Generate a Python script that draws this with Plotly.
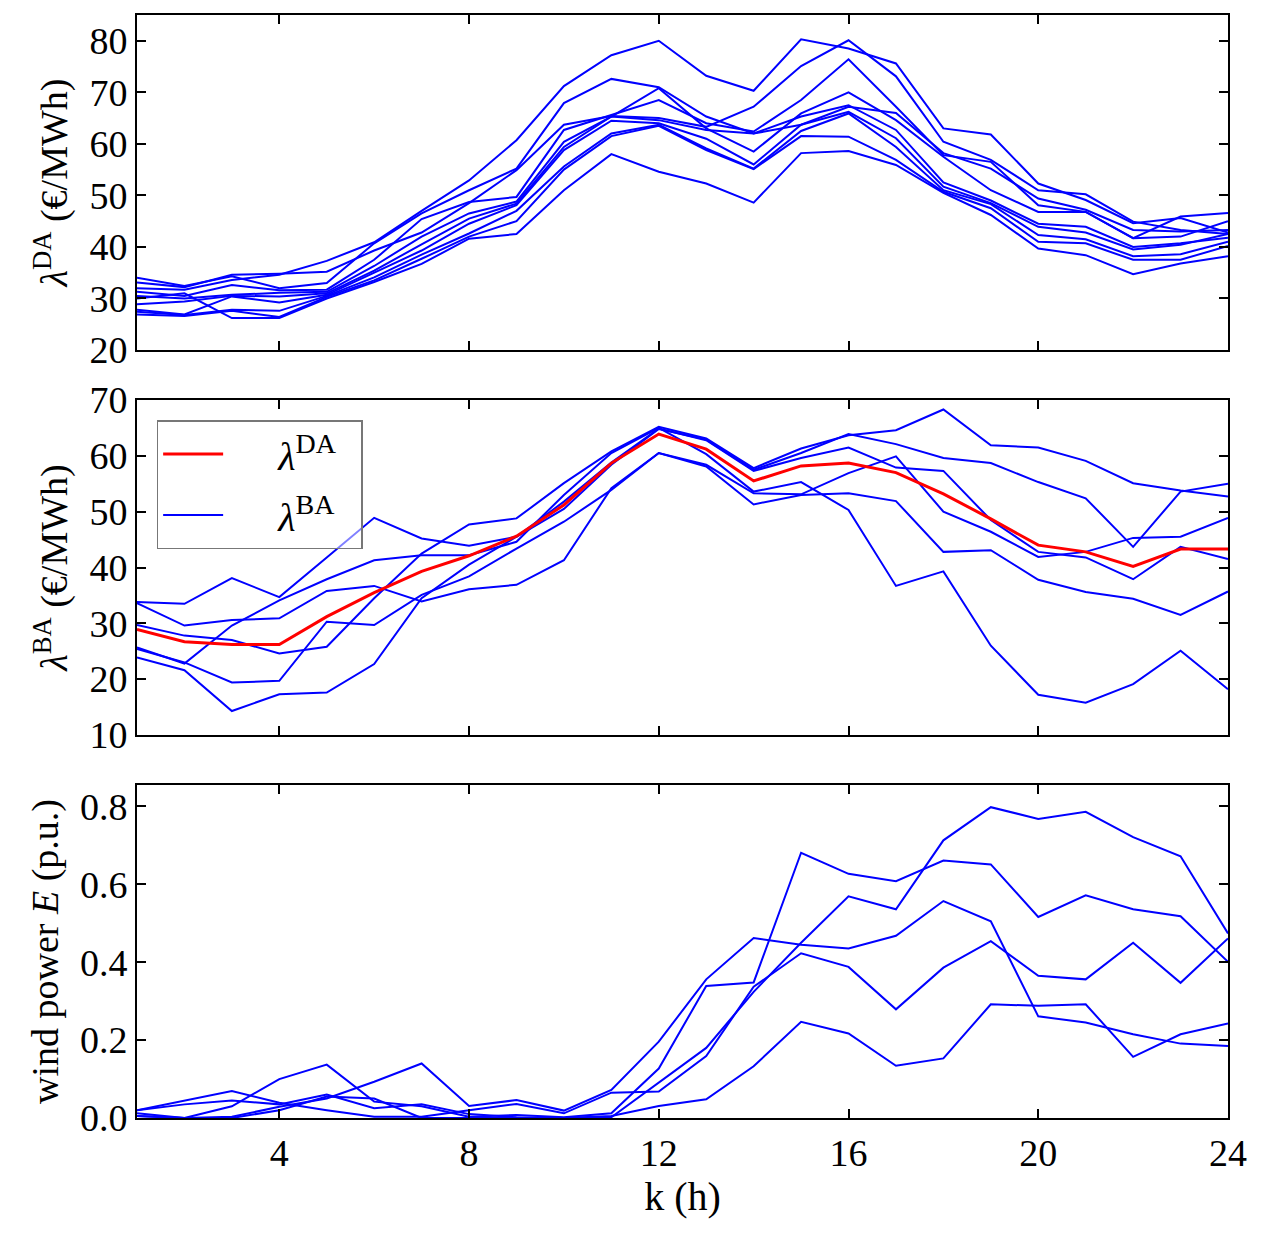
import plotly.graph_objects as go
from plotly.subplots import make_subplots

hours = list(range(1, 25))

# ---- Top panel: day-ahead price scenarios (EUR/MWh) ----
da_s1 = [32.0, 31.7, 33.6, 34.6, 37.3, 40.9, 47.0, 52.9, 60.7, 71.2, 77.2, 80.0, 73.2, 70.3, 80.3, 78.5, 75.6, 63.0, 61.8, 52.3, 49.1, 44.6, 45.6, 42.8]
da_s2 = [33.1, 32.2, 34.6, 34.8, 35.2, 39.3, 42.8, 48.5, 54.9, 63.7, 65.4, 65.0, 63.3, 67.2, 75.1, 80.1, 73.1, 60.4, 56.9, 51.0, 50.2, 44.9, 43.3, 42.5]
da_s3 = [34.0, 32.4, 34.3, 32.0, 33.0, 40.7, 46.5, 51.0, 55.2, 67.9, 72.6, 71.0, 65.3, 62.0, 63.7, 67.2, 66.0, 58.2, 55.2, 49.4, 47.2, 43.3, 43.0, 43.3]
da_s4 = [31.3, 30.5, 32.6, 31.6, 31.7, 37.5, 45.4, 48.7, 49.7, 62.7, 65.6, 68.5, 64.0, 62.4, 68.5, 76.4, 67.2, 57.8, 56.5, 48.1, 46.8, 41.7, 42.0, 45.0]
da_s5 = [30.5, 30.0, 30.7, 31.1, 31.3, 36.3, 42.0, 46.5, 48.8, 60.4, 65.3, 70.8, 63.0, 58.5, 65.9, 70.0, 64.6, 57.5, 51.0, 46.8, 46.8, 41.7, 45.9, 46.6]
da_s6 = [28.9, 29.4, 30.5, 30.4, 31.0, 35.4, 40.5, 45.5, 48.4, 59.4, 65.3, 64.6, 62.7, 62.0, 65.3, 67.5, 62.7, 52.5, 49.0, 44.5, 43.9, 40.0, 40.7, 41.8]
da_s7 = [27.8, 26.9, 30.4, 29.2, 30.7, 35.0, 39.3, 44.5, 48.1, 58.8, 64.5, 64.0, 61.0, 56.0, 63.7, 66.2, 61.1, 51.7, 48.5, 43.9, 42.8, 39.5, 40.4, 42.5]
da_s8 = [27.4, 26.8, 27.8, 27.6, 30.5, 34.1, 38.5, 42.6, 47.0, 55.6, 62.0, 63.7, 59.1, 55.2, 62.5, 65.9, 59.4, 51.0, 48.3, 42.3, 41.5, 38.2, 38.6, 41.0]
da_s9 = [26.9, 26.6, 27.6, 26.4, 30.3, 33.5, 37.7, 42.0, 45.0, 55.0, 61.5, 63.5, 58.8, 55.1, 61.5, 61.4, 56.9, 50.7, 47.5, 41.0, 40.7, 37.5, 37.5, 40.2]
da_s10 = [30.0, 31.0, 26.2, 26.2, 30.0, 33.2, 36.7, 41.6, 42.5, 51.0, 58.0, 54.6, 52.3, 48.6, 58.2, 58.6, 55.9, 50.5, 46.2, 39.7, 38.4, 34.7, 36.8, 38.2]
da_scenarios = [da_s1, da_s2, da_s3, da_s4, da_s5, da_s6, da_s7, da_s8, da_s9, da_s10]

# ---- Middle panel: balancing price scenarios and DA reference ----
da_ref = [28.9, 26.7, 26.2, 26.2, 31.2, 35.5, 39.3, 42.1, 45.6, 51.2, 58.7, 63.9, 61.2, 55.5, 58.2, 58.7, 57.0, 53.2, 48.7, 44.0, 42.8, 40.2, 43.3, 43.3]
ba_s1 = [33.8, 33.5, 38.1, 34.7, 41.8, 48.9, 45.2, 43.9, 45.5, 50.5, 58.4, 64.8, 62.9, 57.5, 60.5, 63.9, 62.1, 59.6, 58.7, 55.3, 52.4, 43.7, 53.6, 55.0]
ba_s2 = [33.6, 29.6, 30.6, 30.9, 35.8, 36.7, 33.9, 36.1, 36.9, 41.3, 54.2, 60.5, 58.4, 53.3, 53.1, 56.9, 59.9, 50.0, 46.4, 41.9, 42.8, 45.3, 45.5, 48.9]
ba_s3 = [29.7, 27.8, 27.0, 24.6, 25.8, 34.5, 42.5, 47.7, 48.8, 55.1, 60.8, 65.2, 63.1, 57.8, 61.3, 63.7, 64.6, 68.3, 61.9, 61.5, 59.1, 55.1, 53.8, 52.7]
ba_s4 = [25.7, 22.8, 29.6, 34.1, 37.9, 41.3, 42.2, 42.2, 44.6, 53.0, 60.5, 65.0, 60.3, 53.6, 55.3, 50.3, 36.7, 39.3, 26.0, 17.2, 15.8, 19.1, 25.1, 18.2]
ba_s5 = [25.4, 23.0, 19.4, 19.7, 30.3, 29.7, 35.1, 38.4, 43.4, 48.2, 53.9, 60.5, 58.1, 51.3, 53.0, 53.3, 51.9, 42.8, 43.1, 37.8, 35.6, 34.4, 31.5, 35.7]
ba_s6 = [23.9, 21.6, 14.3, 17.3, 17.6, 22.7, 34.5, 40.5, 45.5, 51.8, 58.8, 64.9, 62.8, 57.3, 59.6, 61.5, 57.9, 57.3, 48.5, 42.8, 41.8, 37.9, 43.7, 41.5]
ba_scenarios = [ba_s1, ba_s2, ba_s3, ba_s4, ba_s5, ba_s6]

# ---- Bottom panel: wind power scenarios (p.u.) ----
w_a = [0.012, 0.000, 0.030, 0.100, 0.137, 0.042, 0.030, 0.003, 0.008, 0.002, 0.012, 0.127, 0.339, 0.348, 0.681, 0.627, 0.608, 0.661, 0.651, 0.516, 0.572, 0.536, 0.518, 0.401]
w_b = [0.020, 0.035, 0.045, 0.035, 0.060, 0.025, 0.035, 0.010, 0.002, 0.000, 0.002, 0.092, 0.180, 0.324, 0.450, 0.569, 0.536, 0.713, 0.798, 0.768, 0.786, 0.721, 0.672, 0.474]
w_c = [0.005, 0.000, 0.003, 0.029, 0.050, 0.093, 0.140, 0.031, 0.046, 0.019, 0.072, 0.196, 0.356, 0.462, 0.445, 0.435, 0.468, 0.557, 0.505, 0.261, 0.245, 0.215, 0.191, 0.185]
w_d = [0.020, 0.045, 0.069, 0.039, 0.020, 0.003, 0.003, 0.020, 0.036, 0.012, 0.065, 0.068, 0.159, 0.337, 0.423, 0.388, 0.279, 0.386, 0.454, 0.365, 0.356, 0.450, 0.347, 0.461]
w_e = [0.005, 0.000, 0.000, 0.020, 0.055, 0.050, 0.000, 0.000, 0.000, 0.000, 0.005, 0.031, 0.048, 0.133, 0.247, 0.217, 0.134, 0.153, 0.292, 0.288, 0.292, 0.157, 0.215, 0.243]
wind_scenarios = [w_a, w_b, w_c, w_d, w_e]

x_ticks = [4, 8, 12, 16, 20, 24]

BLUE = "#0000ff"
RED = "#ff0000"
FONT = "Liberation Serif"
NB = "\u00a0"

fig = make_subplots(rows=3, cols=1, shared_xaxes=False, vertical_spacing=0.0)

for s in da_scenarios:
    fig.add_trace(go.Scatter(x=hours, y=s, mode="lines", line=dict(color=BLUE, width=2),
                             showlegend=False, hoverinfo="skip"), row=1, col=1)

for i, s in enumerate(ba_scenarios):
    fig.add_trace(go.Scatter(x=hours, y=s, mode="lines", line=dict(color=BLUE, width=2),
                             name=NB * 5 + "<i>λ</i><sup>BA</sup>" + NB * 2, legendgroup="ba",
                             showlegend=(i == 0), legendrank=2, hoverinfo="skip"), row=2, col=1)
fig.add_trace(go.Scatter(x=hours, y=da_ref, mode="lines", line=dict(color=RED, width=3),
                         name=NB * 5 + "<i>λ</i><sup>DA</sup>" + NB * 2, legendrank=1,
                         hoverinfo="skip"), row=2, col=1)

for s in wind_scenarios:
    fig.add_trace(go.Scatter(x=hours, y=s, mode="lines", line=dict(color=BLUE, width=2),
                             showlegend=False, hoverinfo="skip"), row=3, col=1)

H_PLOT = 1103.0
def dom(top_px, bot_px):
    return [(1118 - bot_px) / H_PLOT, (1118 - top_px) / H_PLOT]

axis_common = dict(showline=True, linecolor="black", linewidth=2, mirror="allticks",
                   ticks="inside", ticklen=9, tickwidth=1.5, tickcolor="black",
                   showgrid=False, zeroline=False, automargin=False,
                   tickfont=dict(family=FONT, size=38, color="black"))

for r in (1, 2, 3):
    fig.update_xaxes(range=[1, 24], tickvals=x_ticks, showticklabels=(r == 3),
                     row=r, col=1, **axis_common)

fig.update_xaxes(title=dict(text="k (h)", font=dict(family=FONT, size=40, color="black"),
                            standoff=4), row=3, col=1)

fig.update_yaxes(range=[20, 85], tickvals=[20, 30, 40, 50, 60, 70, 80], domain=dom(15, 350),
                 title=dict(text="<i>λ</i><sup>DA</sup> (€/MWh)", font=dict(family=FONT, size=38, color="black"),
                            standoff=10),
                 row=1, col=1, **axis_common)
fig.update_yaxes(range=[10, 70], tickvals=[10, 20, 30, 40, 50, 60, 70], domain=dom(400, 735),
                 title=dict(text="<i>λ</i><sup>BA</sup> (€/MWh)", font=dict(family=FONT, size=38, color="black"),
                            standoff=10),
                 row=2, col=1, **axis_common)
fig.update_yaxes(range=[0, 0.855], tickvals=[0.0, 0.2, 0.4, 0.6, 0.8], tickformat=".1f",
                 domain=dom(785, 1118),
                 title=dict(text="wind power <i>E</i> (p.u.)", font=dict(family=FONT, size=38, color="black"),
                            standoff=10),
                 row=3, col=1, **axis_common)

fig.update_layout(
    width=1264, height=1244,
    margin=dict(l=137, r=36, t=15, b=126, autoexpand=False),
    paper_bgcolor="white", plot_bgcolor="white",
    font=dict(family=FONT, color="black"),
    legend=dict(x=0.018, y=(1118 - 420) / H_PLOT, xanchor="left", yanchor="top",
                bgcolor="rgba(255,255,255,0.5)", bordercolor="#777777", borderwidth=1.5,
                font=dict(family=FONT, size=40, color="black"), itemwidth=60,
                tracegroupgap=6),
)

fig.write_html("out.html")
